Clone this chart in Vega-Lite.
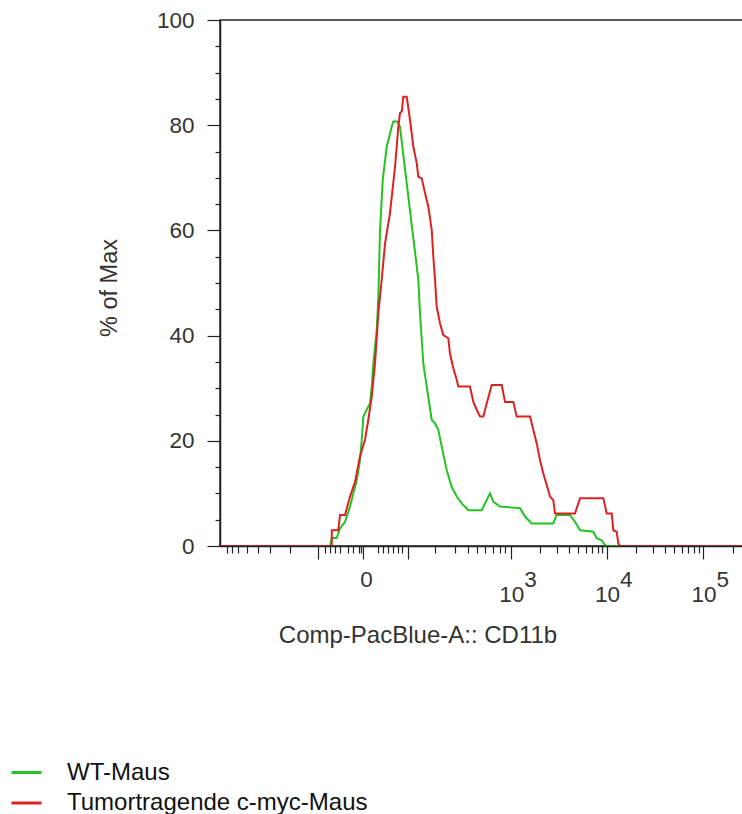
{
  "$schema": "https://vega.github.io/schema/vega-lite/v6.json",
  "width": 523,
  "height": 526,
  "autosize": {"type": "none"},
  "padding": {"left": 220, "top": 20, "right": -1, "bottom": 268},
  "background": "white",
  "config": {"view": {"stroke": "#222", "strokeWidth": 1.5}, "font": "Liberation Sans"},
  "data": {"values": [
    {"sample": "WT-Maus", "i": 0, "x": -870, "y": 0},
    {"sample": "WT-Maus", "i": 1, "x": -35.5, "y": 0},
    {"sample": "WT-Maus", "i": 2, "x": -32.9, "y": 1.5},
    {"sample": "WT-Maus", "i": 3, "x": -25.9, "y": 1.5},
    {"sample": "WT-Maus", "i": 4, "x": -21.6, "y": 3.4},
    {"sample": "WT-Maus", "i": 5, "x": -15.8, "y": 4.6},
    {"sample": "WT-Maus", "i": 6, "x": -10.7, "y": 7.5},
    {"sample": "WT-Maus", "i": 7, "x": -7.6, "y": 10.0},
    {"sample": "WT-Maus", "i": 8, "x": -4.7, "y": 12.5},
    {"sample": "WT-Maus", "i": 9, "x": -2.1, "y": 16.3},
    {"sample": "WT-Maus", "i": 10, "x": -0.8, "y": 20.2},
    {"sample": "WT-Maus", "i": 11, "x": 0.4, "y": 24.6},
    {"sample": "WT-Maus", "i": 12, "x": 2.9, "y": 25.9},
    {"sample": "WT-Maus", "i": 13, "x": 5.6, "y": 27.1},
    {"sample": "WT-Maus", "i": 14, "x": 7.1, "y": 30.3},
    {"sample": "WT-Maus", "i": 15, "x": 8.5, "y": 34.7},
    {"sample": "WT-Maus", "i": 16, "x": 11.8, "y": 41.1},
    {"sample": "WT-Maus", "i": 17, "x": 13.4, "y": 47.4},
    {"sample": "WT-Maus", "i": 18, "x": 15.2, "y": 60.1},
    {"sample": "WT-Maus", "i": 19, "x": 18.2, "y": 69.6},
    {"sample": "WT-Maus", "i": 20, "x": 23.0, "y": 75.9},
    {"sample": "WT-Maus", "i": 21, "x": 29.7, "y": 79.7},
    {"sample": "WT-Maus", "i": 22, "x": 32.0, "y": 80.7},
    {"sample": "WT-Maus", "i": 23, "x": 38.2, "y": 80.7},
    {"sample": "WT-Maus", "i": 24, "x": 42.7, "y": 79.7},
    {"sample": "WT-Maus", "i": 25, "x": 48.7, "y": 74.3},
    {"sample": "WT-Maus", "i": 26, "x": 55.3, "y": 69.0},
    {"sample": "WT-Maus", "i": 27, "x": 66.1, "y": 61.0},
    {"sample": "WT-Maus", "i": 28, "x": 74.0, "y": 55.9},
    {"sample": "WT-Maus", "i": 29, "x": 82.5, "y": 50.6},
    {"sample": "WT-Maus", "i": 30, "x": 87.1, "y": 44.2},
    {"sample": "WT-Maus", "i": 31, "x": 96.7, "y": 34.7},
    {"sample": "WT-Maus", "i": 32, "x": 107.4, "y": 30.3},
    {"sample": "WT-Maus", "i": 33, "x": 124.7, "y": 24.0},
    {"sample": "WT-Maus", "i": 34, "x": 137.4, "y": 23.3},
    {"sample": "WT-Maus", "i": 35, "x": 151.1, "y": 22.1},
    {"sample": "WT-Maus", "i": 36, "x": 166.4, "y": 18.9},
    {"sample": "WT-Maus", "i": 37, "x": 191.2, "y": 14.4},
    {"sample": "WT-Maus", "i": 38, "x": 219.1, "y": 11.2},
    {"sample": "WT-Maus", "i": 39, "x": 250.7, "y": 9.4},
    {"sample": "WT-Maus", "i": 40, "x": 286.2, "y": 8.1},
    {"sample": "WT-Maus", "i": 41, "x": 340, "y": 6.8},
    {"sample": "WT-Maus", "i": 42, "x": 479, "y": 6.8},
    {"sample": "WT-Maus", "i": 43, "x": 521, "y": 8.1},
    {"sample": "WT-Maus", "i": 44, "x": 590, "y": 10.0},
    {"sample": "WT-Maus", "i": 45, "x": 641, "y": 8.4},
    {"sample": "WT-Maus", "i": 46, "x": 757, "y": 7.5},
    {"sample": "WT-Maus", "i": 47, "x": 1237, "y": 7.2},
    {"sample": "WT-Maus", "i": 48, "x": 1397, "y": 5.6},
    {"sample": "WT-Maus", "i": 49, "x": 1645, "y": 4.3},
    {"sample": "WT-Maus", "i": 50, "x": 2770, "y": 4.3},
    {"sample": "WT-Maus", "i": 51, "x": 3007, "y": 5.9},
    {"sample": "WT-Maus", "i": 52, "x": 4137, "y": 5.9},
    {"sample": "WT-Maus", "i": 53, "x": 4665, "y": 4.6},
    {"sample": "WT-Maus", "i": 54, "x": 5260, "y": 3.0},
    {"sample": "WT-Maus", "i": 55, "x": 7230, "y": 2.7},
    {"sample": "WT-Maus", "i": 56, "x": 7840, "y": 1.5},
    {"sample": "WT-Maus", "i": 57, "x": 8840, "y": 1.1},
    {"sample": "WT-Maus", "i": 58, "x": 9560, "y": 0.2},
    {"sample": "WT-Maus", "i": 59, "x": 9960, "y": 0},
    {"sample": "WT-Maus", "i": 60, "x": 256000, "y": 0},
    {"sample": "Tumortragende c-myc-Maus", "i": 0, "x": -870, "y": 0},
    {"sample": "Tumortragende c-myc-Maus", "i": 1, "x": -32.9, "y": 0},
    {"sample": "Tumortragende c-myc-Maus", "i": 2, "x": -32.8, "y": 3.0},
    {"sample": "Tumortragende c-myc-Maus", "i": 3, "x": -23.8, "y": 3.0},
    {"sample": "Tumortragende c-myc-Maus", "i": 4, "x": -21.6, "y": 5.9},
    {"sample": "Tumortragende c-myc-Maus", "i": 5, "x": -15.8, "y": 5.9},
    {"sample": "Tumortragende c-myc-Maus", "i": 6, "x": -10.7, "y": 9.4},
    {"sample": "Tumortragende c-myc-Maus", "i": 7, "x": -6.1, "y": 12.2},
    {"sample": "Tumortragende c-myc-Maus", "i": 8, "x": -2.1, "y": 17.0},
    {"sample": "Tumortragende c-myc-Maus", "i": 9, "x": 1.6, "y": 20.2},
    {"sample": "Tumortragende c-myc-Maus", "i": 10, "x": 4.2, "y": 24.0},
    {"sample": "Tumortragende c-myc-Maus", "i": 11, "x": 7.1, "y": 28.4},
    {"sample": "Tumortragende c-myc-Maus", "i": 12, "x": 10.1, "y": 34.7},
    {"sample": "Tumortragende c-myc-Maus", "i": 13, "x": 13.4, "y": 44.2},
    {"sample": "Tumortragende c-myc-Maus", "i": 14, "x": 17.0, "y": 50.6},
    {"sample": "Tumortragende c-myc-Maus", "i": 15, "x": 20.9, "y": 57.5},
    {"sample": "Tumortragende c-myc-Maus", "i": 16, "x": 27.3, "y": 63.3},
    {"sample": "Tumortragende c-myc-Maus", "i": 17, "x": 34.6, "y": 72.1},
    {"sample": "Tumortragende c-myc-Maus", "i": 18, "x": 39.9, "y": 79.7},
    {"sample": "Tumortragende c-myc-Maus", "i": 19, "x": 42.7, "y": 82.3},
    {"sample": "Tumortragende c-myc-Maus", "i": 20, "x": 45.8, "y": 82.6},
    {"sample": "Tumortragende c-myc-Maus", "i": 21, "x": 48.7, "y": 85.4},
    {"sample": "Tumortragende c-myc-Maus", "i": 22, "x": 55.3, "y": 85.4},
    {"sample": "Tumortragende c-myc-Maus", "i": 23, "x": 62.3, "y": 81.0},
    {"sample": "Tumortragende c-myc-Maus", "i": 24, "x": 69.9, "y": 75.9},
    {"sample": "Tumortragende c-myc-Maus", "i": 25, "x": 78.3, "y": 72.8},
    {"sample": "Tumortragende c-myc-Maus", "i": 26, "x": 82.5, "y": 70.2},
    {"sample": "Tumortragende c-myc-Maus", "i": 27, "x": 92.0, "y": 69.9},
    {"sample": "Tumortragende c-myc-Maus", "i": 28, "x": 101.9, "y": 67.1},
    {"sample": "Tumortragende c-myc-Maus", "i": 29, "x": 112.7, "y": 64.5},
    {"sample": "Tumortragende c-myc-Maus", "i": 30, "x": 124.7, "y": 60.1},
    {"sample": "Tumortragende c-myc-Maus", "i": 31, "x": 130.8, "y": 55.0},
    {"sample": "Tumortragende c-myc-Maus", "i": 32, "x": 137.4, "y": 50.6},
    {"sample": "Tumortragende c-myc-Maus", "i": 33, "x": 144.3, "y": 45.5},
    {"sample": "Tumortragende c-myc-Maus", "i": 34, "x": 158.6, "y": 42.3},
    {"sample": "Tumortragende c-myc-Maus", "i": 35, "x": 174, "y": 40.1},
    {"sample": "Tumortragende c-myc-Maus", "i": 36, "x": 199.8, "y": 39.5},
    {"sample": "Tumortragende c-myc-Maus", "i": 37, "x": 209, "y": 36.6},
    {"sample": "Tumortragende c-myc-Maus", "i": 38, "x": 228.8, "y": 33.8},
    {"sample": "Tumortragende c-myc-Maus", "i": 39, "x": 250.7, "y": 31.6},
    {"sample": "Tumortragende c-myc-Maus", "i": 40, "x": 261.5, "y": 30.3},
    {"sample": "Tumortragende c-myc-Maus", "i": 41, "x": 355, "y": 30.3},
    {"sample": "Tumortragende c-myc-Maus", "i": 42, "x": 387, "y": 27.4},
    {"sample": "Tumortragende c-myc-Maus", "i": 43, "x": 422, "y": 25.9},
    {"sample": "Tumortragende c-myc-Maus", "i": 44, "x": 459, "y": 24.6},
    {"sample": "Tumortragende c-myc-Maus", "i": 45, "x": 499, "y": 24.6},
    {"sample": "Tumortragende c-myc-Maus", "i": 46, "x": 543, "y": 27.1},
    {"sample": "Tumortragende c-myc-Maus", "i": 47, "x": 616, "y": 30.6},
    {"sample": "Tumortragende c-myc-Maus", "i": 48, "x": 790, "y": 30.6},
    {"sample": "Tumortragende c-myc-Maus", "i": 49, "x": 857, "y": 27.4},
    {"sample": "Tumortragende c-myc-Maus", "i": 50, "x": 1050, "y": 27.4},
    {"sample": "Tumortragende c-myc-Maus", "i": 51, "x": 1142, "y": 24.6},
    {"sample": "Tumortragende c-myc-Maus", "i": 52, "x": 1578, "y": 24.6},
    {"sample": "Tumortragende c-myc-Maus", "i": 53, "x": 1709, "y": 22.1},
    {"sample": "Tumortragende c-myc-Maus", "i": 54, "x": 1856, "y": 19.5},
    {"sample": "Tumortragende c-myc-Maus", "i": 55, "x": 2010, "y": 16.3},
    {"sample": "Tumortragende c-myc-Maus", "i": 56, "x": 2177, "y": 13.8},
    {"sample": "Tumortragende c-myc-Maus", "i": 57, "x": 2363, "y": 11.6},
    {"sample": "Tumortragende c-myc-Maus", "i": 58, "x": 2558, "y": 9.4},
    {"sample": "Tumortragende c-myc-Maus", "i": 59, "x": 2770, "y": 8.7},
    {"sample": "Tumortragende c-myc-Maus", "i": 60, "x": 2886, "y": 6.2},
    {"sample": "Tumortragende c-myc-Maus", "i": 61, "x": 4665, "y": 6.2},
    {"sample": "Tumortragende c-myc-Maus", "i": 62, "x": 5260, "y": 9.1},
    {"sample": "Tumortragende c-myc-Maus", "i": 63, "x": 9180, "y": 9.1},
    {"sample": "Tumortragende c-myc-Maus", "i": 64, "x": 9960, "y": 6.2},
    {"sample": "Tumortragende c-myc-Maus", "i": 65, "x": 11220, "y": 6.2},
    {"sample": "Tumortragende c-myc-Maus", "i": 66, "x": 11655, "y": 3.0},
    {"sample": "Tumortragende c-myc-Maus", "i": 67, "x": 12640, "y": 2.7},
    {"sample": "Tumortragende c-myc-Maus", "i": 68, "x": 13135, "y": 0.5},
    {"sample": "Tumortragende c-myc-Maus", "i": 69, "x": 13680, "y": 0},
    {"sample": "Tumortragende c-myc-Maus", "i": 70, "x": 256000, "y": 0}
  ]},
  "mark": {"type": "line", "strokeWidth": 2, "interpolate": "linear", "clip": true},
  "encoding": {
    "x": {
      "field": "x", "type": "quantitative",
      "scale": {"type": "symlog", "constant": 30, "domain": [-870, 256400], "nice": false, "zero": false},
      "axis": {
        "title": "Comp-PacBlue-A:: CD11b",
        "values": [-737, -651, -552, -446, -331, -243, -140, -56.6, -43.8, -35.5, -28.2, -21.6, -12.4, -7.6, -3.2, -1.7, 0, 13.4, 18.9, 25.1, 32.0, 39.9, 45.8, 58.6, 137.4, 239.6, 333, 422, 521, 641, 757, 857, 1000, 2000, 3000, 4000, 5000, 6000, 7000, 8000, 9000, 10000, 20000, 30000, 40000, 50000, 60000, 70000, 80000, 90000, 100000, 200000],
        "labelExpr": "datum.value === 0 ? '\u200b\u00a00' : datum.value === 1000 ? ['\u200b\u00a0\u00a0\u00a0\u00a0\u00a0\u00a03', '10'] : datum.value === 10000 ? ['\u200b\u00a0\u00a0\u00a0\u00a0\u00a0\u00a04', '10'] : datum.value === 100000 ? ['\u200b\u00a0\u00a0\u00a0\u00a0\u00a0\u00a05', '10'] : ''",
        "tickSize": 13,
        "tickDash": {"condition": {"test": "datum.value === 0 || datum.value === -56.6 || datum.value === 58.6 || datum.value === 1000 || datum.value === 10000 || datum.value === 100000", "value": [20, 0]}, "value": [7, 40]},
        "labelPadding": 9,
        "labelBaseline": "top",
        "labelLineHeight": 15,
        "labelFontSize": 22.5,
        "labelColor": "#333",
        "labelOverlap": false,
        "labelFlush": false,
        "labelBound": false,
        "domainColor": "#222",
        "domainWidth": 1.5,
        "tickColor": "#222",
        "tickWidth": 1.2,
        "grid": false,
        "zindex": 1,
        "titleFontSize": 24,
        "titleFontWeight": "normal",
        "titleColor": "#333",
        "titleX": 197.5,
        "titleY": 96.5,
        "titleBaseline": "alphabetic",
        "titleAlign": "center"
      }
    },
    "y": {
      "field": "y", "type": "quantitative",
      "scale": {"domain": [0, 100], "nice": false},
      "axis": {
        "title": "% of Max",
        "values": [0, 5, 10, 15, 20, 25, 30, 35, 40, 45, 50, 55, 60, 65, 70, 75, 80, 85, 90, 95, 100],
        "labelExpr": "datum.value % 20 === 0 ? datum.label : ''",
        "tickSize": 13,
        "tickDash": {"condition": {"test": "datum.value % 20 === 0", "value": [20, 0]}, "value": [5, 40]},
        "labelPadding": 13,
        "labelFontSize": 22.5,
        "labelColor": "#333",
        "labelOverlap": false,
        "labelFlush": false,
        "domainColor": "#222",
        "domainWidth": 1.5,
        "tickColor": "#222",
        "tickWidth": 1.2,
        "grid": false,
        "zindex": 1,
        "titleFontSize": 23.5,
        "titleFontWeight": "normal",
        "titleColor": "#333",
        "titleAngle": -90,
        "titleX": -103.3,
        "titleY": 267.5,
        "titleBaseline": "alphabetic",
        "titleAlign": "center"
      }
    },
    "color": {
      "field": "sample", "type": "nominal",
      "scale": {"domain": ["WT-Maus", "Tumortragende c-myc-Maus"], "range": ["#22c322", "#dd2020"]},
      "legend": {
        "orient": "none", "legendX": -210, "legendY": 736, "title": null,
        "symbolType": "stroke", "symbolSize": 900, "symbolStrokeWidth": 3,
        "labelFontSize": 24, "labelColor": "#111", "labelOffset": 24, "rowPadding": 1.5,
        "padding": 0, "labelLimit": 500
      }
    },
    "order": {"field": "i", "type": "quantitative"}
  }
}
